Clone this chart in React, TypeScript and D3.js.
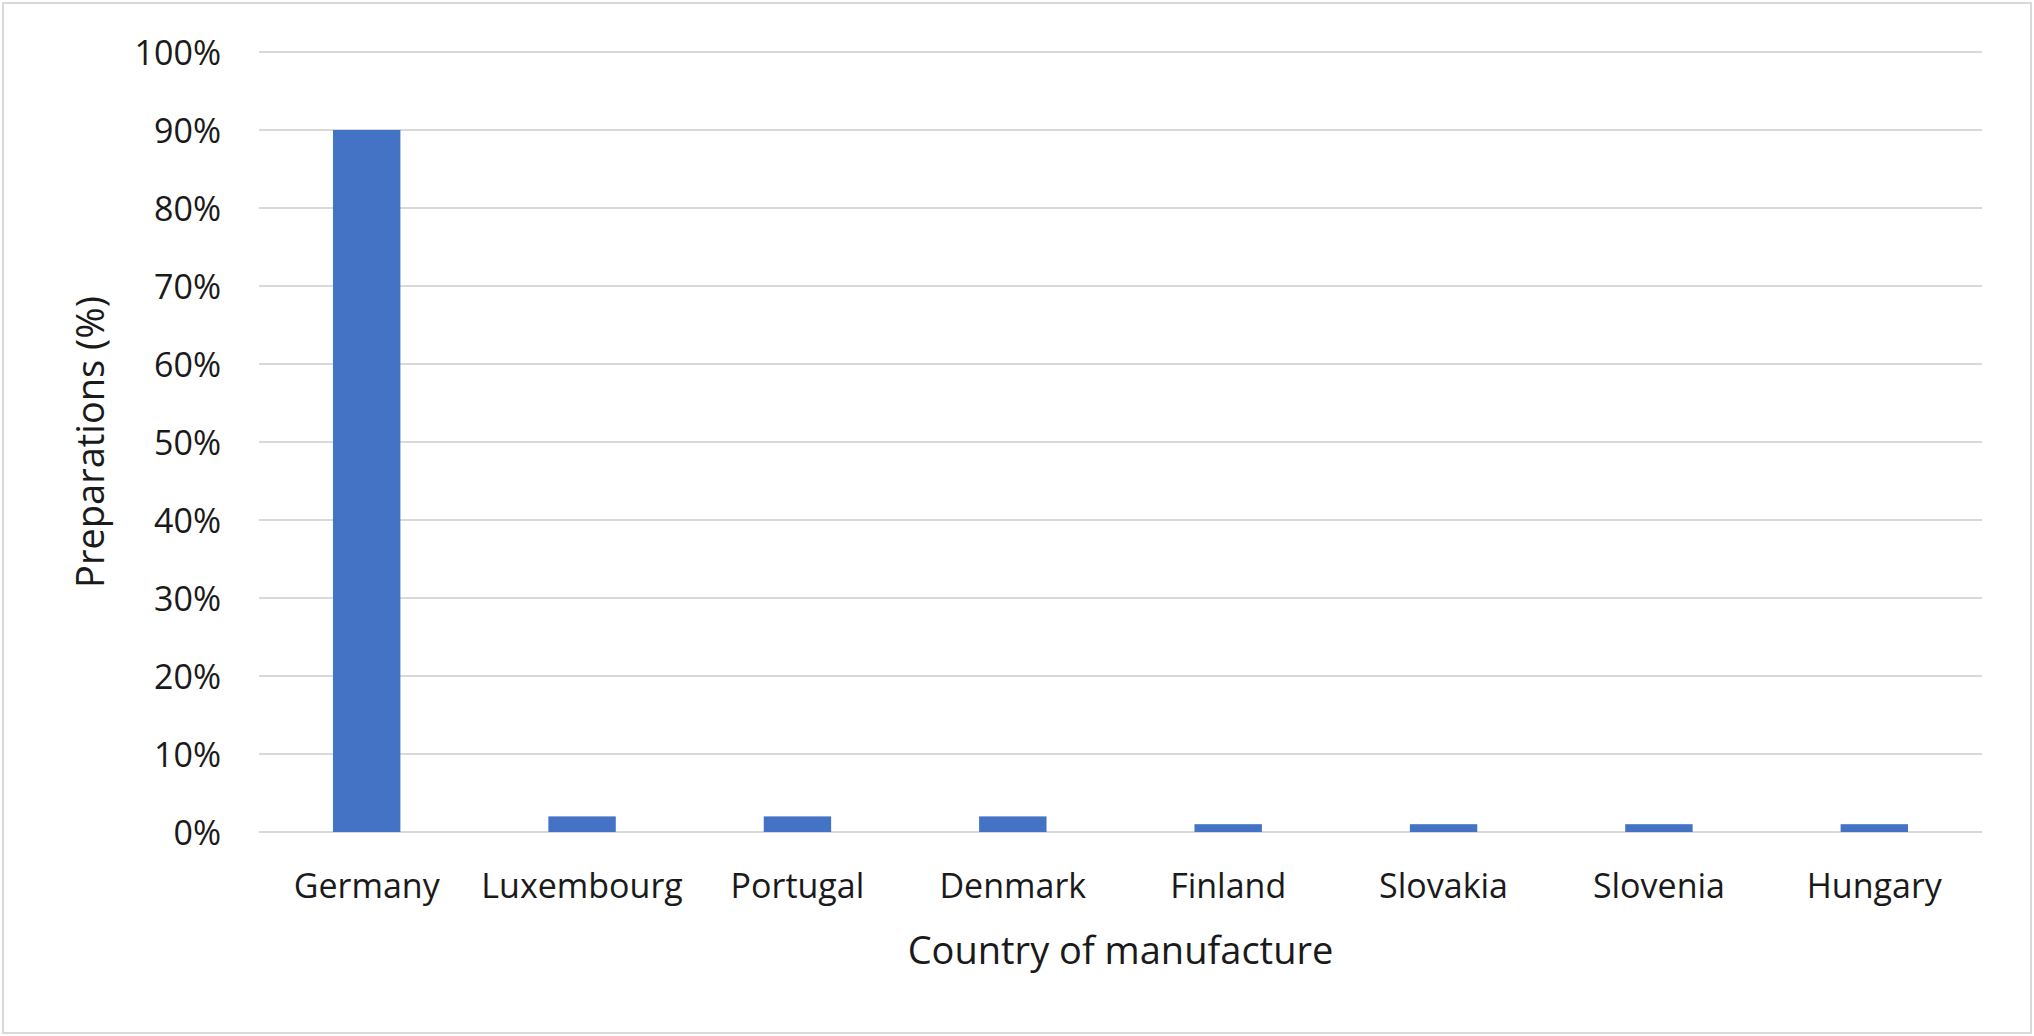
import React, { useEffect } from "react";
import * as d3 from "d3";

const countries = ["Germany", "Luxembourg", "Portugal", "Denmark", "Finland", "Slovakia", "Slovenia", "Hungary"];
const shares = [90, 2, 2, 2, 1, 1, 1, 1];
const yTicks = [0, 10, 20, 30, 40, 50, 60, 70, 80, 90, 100];
const xTitle = "Country of manufacture";
const yTitle = "Preparations (%)";

const W = 2034;
const H = 1036;
const M = { left: 259, right: 52, top: 52, bottom: 204 };
const FONT = "'Open Sans', sans-serif";

export default function App() {
  useEffect(() => {
    document.body.style.margin = "0";
  }, []);
  const x = d3
    .scaleBand<string>()
    .domain(countries)
    .range([M.left, W - M.right])
    .paddingInner(0.687)
    .paddingOuter(0.3435);
  const y = d3.scaleLinear().domain([0, 100]).range([H - M.bottom, M.top]);

  return (
    <svg width={W} height={H} style={{ display: "block", background: "#fff" }}>
      <rect x={3} y={3} width={W - 6} height={H - 6} fill="#fff" stroke="#d9d9d9" strokeWidth={2} />
      {yTicks.map((t) => (
        <g key={t}>
          <line x1={M.left} x2={W - M.right} y1={y(t)} y2={y(t)} stroke="#d9d9d9" strokeWidth={2} />
          <text
            x={221}
            y={y(t)}
            textAnchor="end"
            dominantBaseline="central"
            fontFamily={FONT}
            fontSize={34}
            fill="#1a1a1a"
          >
            {t}%
          </text>
        </g>
      ))}
      {countries.map((c, i) => (
        <rect
          key={c}
          x={x(c)}
          y={y(shares[i])}
          width={x.bandwidth()}
          height={y(0) - y(shares[i])}
          fill="#4472c4"
        />
      ))}
      {countries.map((c) => (
        <text
          key={c}
          x={(x(c) as number) + x.bandwidth() / 2}
          y={898}
          textAnchor="middle"
          fontFamily={FONT}
          fontSize={34}
          fill="#1a1a1a"
        >
          {c}
        </text>
      ))}
      <text x={(M.left + W - M.right) / 2} y={964} textAnchor="middle" fontFamily={FONT} fontSize={38} fill="#1a1a1a">
        {xTitle}
      </text>
      <text
        transform={`translate(104, ${(y(0) + y(100)) / 2}) rotate(-90)`}
        textAnchor="middle"
        fontFamily={FONT}
        fontSize={38}
        fill="#1a1a1a"
      >
        {yTitle}
      </text>
    </svg>
  );
}
